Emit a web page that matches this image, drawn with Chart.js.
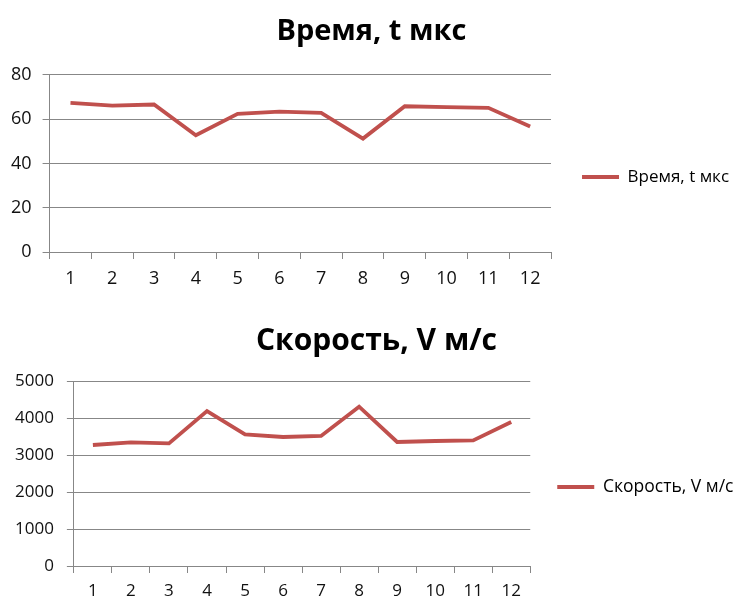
<!DOCTYPE html>
<html>
<head>
<meta charset="utf-8">
<script src="https://cdn.jsdelivr.net/npm/chart.js@4/dist/chart.umd.min.js"></script>
<style>
  html, body { margin: 0; padding: 0; background: #fff; overflow: hidden; }
  .box { position: absolute; left: 0; width: 733px; }
  #box1 { top: 0; height: 300px; }
  #box2 { top: 300px; height: 310px; }
</style>
</head>
<body>
<div class="box" id="box1"><canvas id="timeChart" width="733" height="300"></canvas></div>
<div class="box" id="box2"><canvas id="speedChart" width="733" height="310"></canvas></div>
<script>
'use strict';

const labels = ['1', '2', '3', '4', '5', '6', '7', '8', '9', '10', '11', '12'];
const timeValues = [67.3, 66.1, 66.6, 52.7, 62.4, 63.4, 62.8, 51.2, 65.8, 65.4, 65.1, 56.7];
const speedValues = [3270, 3342, 3315, 4189, 3559, 3486, 3514, 4306, 3351, 3378, 3396, 3892];
const timeTicks = [0, 20, 40, 60, 80];
const speedTicks = [0, 1000, 2000, 3000, 4000, 5000];

const FONT = "'Open Sans', 'Noto Sans', sans-serif";
const RED = '#C0504D';
const GRID = '#878787';

// s: sizes for one chart (fonts, paddings)
function makeChart(id, title, data, ticks, s) {
  const ctx = document.getElementById(id).getContext('2d');
  return new Chart(ctx, {
    type: 'line',
    data: {
      labels: labels,
      datasets: [{
        label: title,
        data: data,
        borderColor: RED,
        backgroundColor: RED,
        borderWidth: 3.8,
        pointRadius: 0,
        tension: 0
      }]
    },
    // the legend eats into the title's width, move the title back over the plot
    plugins: [{
      id: 'titleShift',
      afterLayout: function(chart) {
        chart.titleBlock.left += s.titleShift;
        chart.titleBlock.right += s.titleShift;
      }
    }],
    options: {
      responsive: false,
      animation: false,
      layout: { padding: s.pad },
      plugins: {
        title: {
          display: true,
          text: title,
          color: '#000',
          font: { family: FONT, size: s.titleFont, weight: 'bold' },
          padding: s.titlePad
        },
        legend: {
          display: true,
          position: 'right',
          // empty title only used to push the entry down a bit
          title: { display: true, text: ' ', font: { size: 10, lineHeight: 1 }, padding: s.legendShift },
          labels: {
            boxWidth: 37,
            boxHeight: 4,
            padding: s.legendPad,
            color: '#000',
            font: { family: FONT, size: s.legendFont },
            generateLabels: function(chart) {
              return [{
                text: title,
                fillStyle: RED,
                strokeStyle: RED,
                fontColor: '#000',
                lineWidth: 0,
                hidden: false,
                datasetIndex: 0
              }];
            }
          }
        },
        tooltip: { enabled: false }
      },
      scales: {
        x: {
          offset: true,
          grid: {
            offset: true,
            drawOnChartArea: false,
            tickLength: 7,
            color: GRID
          },
          border: { color: GRID, width: 1 },
          ticks: {
            color: '#111',
            padding: s.xPad,
            maxRotation: 0,
            font: { family: FONT, size: s.tickFont, lineHeight: 1 }
          }
        },
        y: {
          min: ticks[0],
          max: ticks[ticks.length - 1],
          afterBuildTicks: function(axis) {
            axis.ticks = ticks.map(function(v) { return { value: v }; });
          },
          grid: { color: GRID, tickLength: 7 },
          border: { color: GRID, width: 1 },
          ticks: {
            color: '#111',
            padding: s.yPad,
            callback: function(v) { return String(v); },
            font: { family: FONT, size: s.tickFont }
          }
        },
        // hidden spacer between plot and legend
        gap: {
          type: 'linear',
          axis: 'y',
          position: 'right',
          display: false,
          afterFit: function(axis) { axis.width = s.spacer; }
        }
      }
    }
  });
}

makeChart('timeChart', 'Время, t мкс', timeValues, timeTicks, {
  pad: { left: 0, right: -1.7, top: 5, bottom: 1 },
  titleFont: 29,
  titlePad: { top: 9, bottom: 26 },
  titleShift: 4,
  spacer: 0,
  legendPad: 31,
  legendShift: 20,
  legendFont: 17,
  tickFont: 18,
  xPad: 11,
  yPad: 11
});
makeChart('speedChart', 'Скорость, V м/с', speedValues, speedTicks, {
  pad: { left: 2, right: 0, top: 11, bottom: 1 },
  titleFont: 30,
  titlePad: { top: 12, bottom: 22 },
  titleShift: 9,
  spacer: 20,
  legendPad: 7,
  legendShift: 22,
  legendFont: 17.5,
  tickFont: 17,
  xPad: 9.5,
  yPad: 13
});
</script>
</body>
</html>
